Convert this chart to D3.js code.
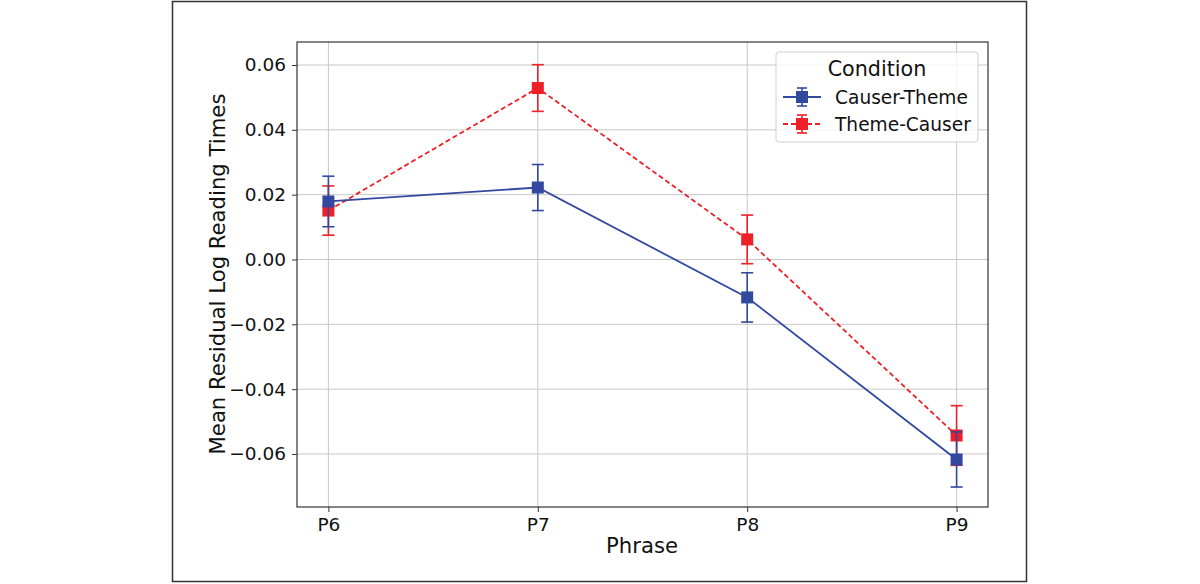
<!DOCTYPE html>
<html><head><meta charset="utf-8">
<script src="https://cdn.jsdelivr.net/npm/d3@7/dist/d3.min.js"></script>
<style>body{margin:0;background:#fff;} svg{display:block;font-family:"DejaVu Sans",sans-serif;}</style>
</head><body>
<svg id="c" width="1200" height="584"></svg>
<script>
const categories = ["P6","P7","P8","P9"];
const seriesNames = ["Causer-Theme","Theme-Causer"];
const causerTheme = [0.0179, 0.0222, -0.0117, -0.0617];
const causerThemeErr = [0.0078, 0.0071, 0.0076, 0.0085];
const themeCauser = [0.0151, 0.0529, 0.0062, -0.0543];
const themeCauserErr = [0.0076, 0.0072, 0.0075, 0.0092];
const yTicks = [-0.06,-0.04,-0.02,0.00,0.02,0.04,0.06];

const colors = ["#3349a0", "#ee1f27"];
const svg = d3.select("#c");
svg.append("rect").attr("x",172.5).attr("y",1.5).attr("width",854).attr("height",580)
  .attr("fill","none").attr("stroke","#333").attr("stroke-width",1.5);

const L=297, R=988, T=42, B=507;
const x = d3.scaleLinear().domain([-0.15, 3.15]).range([L,R]);
const y = d3.scaleLinear().domain([-0.07636, 0.0671]).range([B,T]);

const g = svg.append("g");
g.selectAll(".gx").data(categories).join("line")
  .attr("x1",(d,i)=>x(i)).attr("x2",(d,i)=>x(i)).attr("y1",T).attr("y2",B)
  .attr("stroke","#c8c8c8").attr("stroke-width",1);
g.selectAll(".gy").data(yTicks).join("line")
  .attr("y1",d=>y(d)).attr("y2",d=>y(d)).attr("x1",L).attr("x2",R)
  .attr("stroke","#c8c8c8").attr("stroke-width",1);

const fmt = d => (d<0?"\u2212":"") + Math.abs(d).toFixed(2);
const yAxis = d3.axisLeft(y).tickValues(yTicks).tickFormat(fmt).tickSize(5).tickPadding(6);
const ya = svg.append("g").attr("transform",`translate(${L},0)`).call(yAxis);
const xAxis = d3.axisBottom(x).tickValues([0,1,2,3]).tickFormat(i=>categories[i]).tickSize(5).tickPadding(6);
const xa = svg.append("g").attr("transform",`translate(0,${B})`).call(xAxis);
[ya,xa].forEach(a=>{
  a.select(".domain").remove();
  a.selectAll("text").attr("font-size",18.5).attr("fill","#111").attr("font-family","DejaVu Sans");
  a.selectAll("line").attr("stroke","#333");
});
svg.append("rect").attr("x",L).attr("y",T).attr("width",R-L).attr("height",B-T)
  .attr("fill","none").attr("stroke","#333").attr("stroke-width",1.2);

svg.append("text").attr("x",642).attr("y",553).attr("text-anchor","middle")
  .attr("font-size",21.2).attr("fill","#111").text("Phrase");
svg.append("text").attr("transform","translate(225,274) rotate(-90)").attr("text-anchor","middle")
  .attr("font-size",21.2).attr("fill","#111").text("Mean Residual Log Reading Times");

const series = [
  {name:seriesNames[0], vals:causerTheme, err:causerThemeErr, color:colors[0], dash:null},
  {name:seriesNames[1], vals:themeCauser, err:themeCauserErr, color:colors[1], dash:"5,3"}
];
const line = d3.line().x((d,i)=>x(i)).y(d=>y(d));
const drawSeries = s => {
  const sg = svg.append("g");
  sg.append("path").datum(s.vals).attr("d",line).attr("fill","none")
    .attr("stroke",s.color).attr("stroke-width",1.8).attr("stroke-dasharray",s.dash);
  s.vals.forEach((v,i)=>{
    const cx=x(i);
    sg.append("line").attr("x1",cx).attr("x2",cx).attr("y1",y(v-s.err[i])).attr("y2",y(v+s.err[i]))
      .attr("stroke",s.color).attr("stroke-width",1.6);
    [v-s.err[i], v+s.err[i]].forEach(e=>{
      sg.append("line").attr("x1",cx-6).attr("x2",cx+6).attr("y1",y(e)).attr("y2",y(e))
        .attr("stroke",s.color).attr("stroke-width",1.6);
    });
    sg.append("rect").attr("x",cx-6).attr("y",y(v)-6).attr("width",12).attr("height",12)
      .attr("fill",s.color);
  });
};
drawSeries(series[1]);
drawSeries(series[0]);

const lg = svg.append("g");
lg.append("rect").attr("x",776).attr("y",52).attr("width",202).attr("height",90).attr("rx",3)
  .attr("fill","#fff").attr("fill-opacity",0.8).attr("stroke","#d0d0d0");
lg.append("text").attr("x",877).attr("y",76).attr("text-anchor","middle")
  .attr("font-size",20.7).attr("fill","#111").text("Condition");
series.forEach((s,k)=>{
  const yy = 97 + k*27;
  lg.append("line").attr("x1",783).attr("x2",821).attr("y1",yy).attr("y2",yy)
    .attr("stroke",s.color).attr("stroke-width",1.8).attr("stroke-dasharray",s.dash);
  lg.append("line").attr("x1",802).attr("x2",802).attr("y1",yy-9).attr("y2",yy+9)
    .attr("stroke",s.color).attr("stroke-width",1.6);
  [yy-9,yy+9].forEach(e=>lg.append("line").attr("x1",797).attr("x2",807).attr("y1",e).attr("y2",e)
    .attr("stroke",s.color).attr("stroke-width",1.6));
  lg.append("rect").attr("x",796).attr("y",yy-6).attr("width",12).attr("height",12).attr("fill",s.color);
  lg.append("text").attr("x",835).attr("y",yy+6.5).attr("font-size",18.6).attr("fill","#111").text(s.name);
});
</script>
</body></html>
